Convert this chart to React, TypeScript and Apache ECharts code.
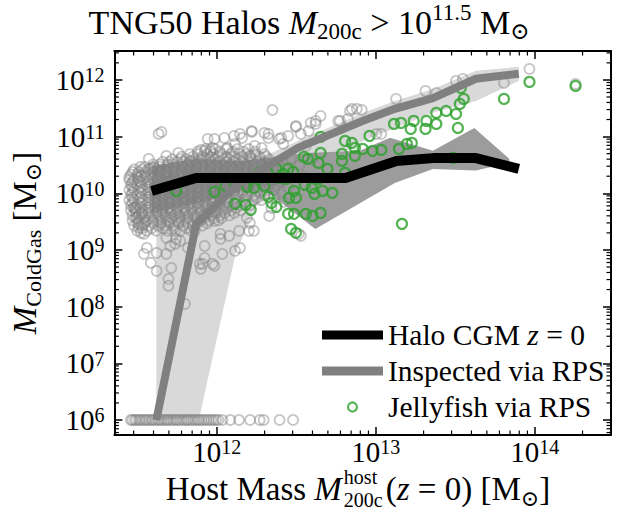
import React, { useEffect, useRef } from "react";
import * as echarts from "echarts";

const SERIF = "'Liberation Serif', 'DejaVu Serif', serif";

// axis limits (log10 of the values)
const X_LOG_RANGE = [11.356, 14.48];
const Y_LOG_RANGE = [5.735, 12.51];

// floor used for halos without cold gas (log10 M)
const ZERO_GAS_FLOOR = 6.0;

// ---------- data (log10 M200c, log10 MColdGas) ----------
const haloCgmMedian: number[][] = [
  [11.59, 10.04], [11.87, 10.27], [12.16, 10.27], [12.81, 10.27], [13.13, 10.57],
  [13.36, 10.62], [13.63, 10.62], [13.9, 10.43],
];

const inspectedMedian: number[][] = [
  [11.62, 6.0], [11.87, 9.45], [12.14, 10.18], [12.51, 10.8], [12.92, 11.28],
  [13.12, 11.49], [13.36, 11.68], [13.63, 12.02], [13.9, 12.11],
];

const inspectedBandUpper: number[][] = [
  [11.62, 10.04], [11.88, 10.43], [12.21, 10.54], [12.51, 10.92], [12.92, 11.42],
  [13.12, 11.63], [13.36, 11.84], [13.63, 12.16], [13.9, 12.23],
];
const inspectedBandLower: number[][] = [
  [11.62, 5.99], [11.89, 6.04], [12.12, 8.95], [12.25, 9.78], [12.56, 10.31],
  [12.92, 10.92], [13.36, 11.42], [13.63, 11.63], [13.9, 11.98],
];

const haloBandUpper: number[][] = [
  [11.59, 10.48], [11.87, 10.61], [12.16, 10.57], [12.56, 10.71], [12.9, 10.75],
  [13.09, 10.98], [13.36, 10.75], [13.62, 11.15], [13.84, 10.61],
];
const haloBandLower: number[][] = [
  [11.59, 9.65], [11.94, 9.87], [12.27, 10.13], [12.62, 9.37], [13.12, 10.18],
  [13.36, 10.43], [13.63, 10.4], [13.84, 10.54],
];

const jellyfish: number[][] = [
  [11.745, 10.042], [11.986, 10.025], [12.054, 10.131], [12.115, 9.813], [12.183, 9.795],
  [12.214, 9.707], [12.19, 10.113], [12.233, 10.095], [12.264, 10.36], [12.3, 10.131],
  [12.325, 9.937], [12.344, 9.831], [12.375, 9.76], [12.375, 10.43], [12.418, 10.342],
  [12.449, 10.43], [12.393, 10.272], [12.436, 10.254], [12.48, 10.377], [12.486, 10.042],
  [12.455, 9.919], [12.498, 9.919], [12.449, 9.637], [12.486, 9.637], [12.467, 9.372],
  [12.498, 9.302], [12.554, 10.148], [12.597, 10.095], [12.56, 9.637], [12.603, 9.601],
  [12.653, 9.654], [12.615, 9.989], [12.64, 10.254], [12.665, 10.042], [12.727, 10.007],
  [12.653, 10.995], [12.653, 10.713], [12.64, 10.536], [12.548, 10.642], [12.572, 10.607],
  [12.696, 10.43], [12.807, 10.36], [12.788, 10.695], [12.788, 10.571], [12.807, 10.924],
  [12.85, 10.889], [12.869, 10.801], [12.869, 10.66], [12.918, 10.783], [12.961, 11.012],
  [12.98, 10.748], [13.035, 10.765], [13.115, 11.224], [13.159, 11.242], [13.22, 11.136],
  [13.239, 11.277], [13.146, 10.783], [13.196, 10.871], [13.227, 10.889], [13.165, 9.46],
  [13.313, 11.136], [13.319, 11.277], [13.381, 11.418], [13.381, 11.224], [13.443, 11.453],
  [13.505, 11.4], [13.517, 11.153], [13.529, 11.577], [13.554, 11.665], [13.535, 11.859],
  [13.486, 10.624], [13.807, 11.665], [13.967, 11.965], [14.257, 11.894],
];

const grayScattered: number[][] = [
  [12.35, 11.47], [11.634, 11.048], [11.652, 11.083], [11.572, 10.607], [11.683, 10.66],
  [11.758, 10.713], [11.832, 10.571], [11.9, 10.765], [11.943, 10.959], [11.986, 10.959],
  [11.961, 10.765], [12.048, 10.977], [12.066, 10.801], [12.159, 10.977], [12.22, 11.083],
  [12.239, 10.836], [12.325, 11.048], [12.393, 10.959], [12.449, 11.012], [12.498, 11.171],
  [12.578, 11.1], [12.622, 11.224], [12.653, 11.365], [12.56, 10.836], [12.764, 11.277],
  [12.85, 11.489], [12.912, 11.471], [11.523, 10.307], [11.51, 10.219], [11.603, 10.448],
  [11.492, 9.742], [11.523, 9.302], [11.51, 9.46], [11.529, 9.637], [11.739, 9.337],
  [11.683, 9.213], [11.862, 9.337], [11.986, 9.513], [12.023, 9.284], [12.078, 9.249],
  [12.14, 9.337], [12.19, 9.566], [12.233, 9.337], [12.529, 9.249], [12.344, 9.742],
  [11.542, 8.931], [11.585, 8.773], [11.622, 8.631], [11.696, 8.49], [11.696, 8.367],
  [11.708, 9.072], [11.745, 9.196], [11.8, 8.049], [11.924, 9.072], [11.912, 8.755],
  [11.9, 8.667], [11.986, 8.72], [12.115, 8.984], [12.202, 9.337], [11.924, 10.748],
  [11.974, 10.801], [12.109, 11.012], [11.585, 10.43], [11.48, 9.742], [11.498, 9.566],
  [11.51, 9.39], [11.542, 9.284], [11.56, 9.037], [11.622, 8.949], [11.683, 8.931],
  [11.739, 9.108], [11.77, 9.16], [11.819, 9.037], [11.714, 8.684], [11.893, 8.755],
  [11.974, 8.755], [11.924, 8.86], [12.023, 9.196], [12.146, 9.037], [12.035, 8.931],
  [12.22, 11.1], [12.146, 11.048], [12.115, 10.871], [12.3, 11.065], [12.325, 10.977],
  [12.406, 10.977], [12.418, 10.871], [12.498, 11.189], [12.529, 11.048], [12.591, 11.242],
  [12.622, 11.277], [12.776, 11.277], [12.825, 11.312], [12.881, 11.489], [13.128, 11.665],
  [13.313, 11.806], [13.381, 11.771], [13.004, 11.048], [13.035, 11.048], [12.208, 10.66],
  [12.282, 10.801], [12.208, 9.478], [12.516, 9.284], [12.838, 11.453], [13.505, 11.982],
  [13.548, 12.018], [13.807, 11.947], [13.967, 12.194], [14.257, 11.929],
  [12.38, 10.55], [12.43, 10.45], [12.47, 10.62], [12.4, 10.2], [12.45, 10.1],
  [12.36, 9.95], [12.52, 10.5], [12.55, 10.3], [12.6, 10.6], [12.42, 9.85], [12.33, 9.6],
];

// dense cloud of halos, written row by row: [log10 MColdGas, [log10 M200c ...]]
const grayCloudRows: [number, number[]][] = [
  [10.78, [11.93, 11.99, 12.06, 12.13, 12.2]],
  [10.735, [11.88, 11.96, 12.02, 12.1, 12.17, 12.24]],
  [10.69, [11.83, 11.88, 11.94, 11.98, 12.03, 12.09, 12.14, 12.19, 12.24, 12.3]],
  [10.645, [11.78, 11.85, 11.91, 11.96, 12.01, 12.06, 12.11, 12.16, 12.21, 12.27, 12.31]],
  [10.6, [11.72, 11.77, 11.81, 11.86, 11.9, 11.95, 11.99, 12.04, 12.08, 12.12, 12.17, 12.22, 12.27, 12.33]],
  [10.555, [11.66, 11.7, 11.75, 11.79, 11.84, 11.88, 11.93, 11.97, 12.02, 12.06, 12.11, 12.15, 12.2, 12.25, 12.3]],
  [10.51, [11.6, 11.64, 11.69, 11.73, 11.78, 11.82, 11.87, 11.91, 11.96, 12.0, 12.05, 12.09, 12.14, 12.18, 12.23, 12.28, 12.33]],
  [10.465, [11.52, 11.55, 11.6, 11.64, 11.69, 11.73, 11.78, 11.82, 11.87, 11.91, 11.96, 12.0, 12.05, 12.09, 12.14, 12.18, 12.23, 12.28, 12.32]],
  [10.42, [11.48, 11.53, 11.57, 11.62, 11.66, 11.71, 11.75, 11.8, 11.84, 11.89, 11.93, 11.98, 12.02, 12.07, 12.11, 12.16, 12.2, 12.25, 12.3, 12.35]],
  [10.375, [11.47, 11.51, 11.55, 11.6, 11.64, 11.69, 11.73, 11.78, 11.82, 11.87, 11.91, 11.96, 12.0, 12.05, 12.09, 12.14, 12.18, 12.23, 12.28, 12.33]],
  [10.33, [11.46, 11.5, 11.55, 11.59, 11.64, 11.68, 11.73, 11.77, 11.82, 11.86, 11.91, 11.95, 12.0, 12.04, 12.09, 12.13, 12.18, 12.22, 12.27, 12.32, 12.37]],
  [10.285, [11.45, 11.5, 11.55, 11.6, 11.64, 11.69, 11.73, 11.78, 11.82, 11.87, 11.91, 11.96, 12.0, 12.05, 12.09, 12.14, 12.2, 12.25, 12.31, 12.37]],
  [10.24, [11.45, 11.48, 11.53, 11.57, 11.62, 11.66, 11.71, 11.75, 11.8, 11.84, 11.89, 11.93, 11.98, 12.02, 12.07, 12.11, 12.16, 12.2, 12.25, 12.3, 12.35, 12.4]],
  [10.195, [11.47, 11.52, 11.57, 11.61, 11.66, 11.7, 11.75, 11.79, 11.84, 11.88, 11.93, 11.97, 12.02, 12.06, 12.11, 12.15, 12.2, 12.26, 12.32]],
  [10.15, [11.46, 11.5, 11.55, 11.59, 11.64, 11.68, 11.73, 11.77, 11.82, 11.86, 11.91, 11.95, 12.0, 12.04, 12.09, 12.13, 12.18, 12.23, 12.28, 12.33, 12.38]],
  [10.105, [11.47, 11.52, 11.57, 11.61, 11.66, 11.7, 11.75, 11.79, 11.84, 11.88, 11.93, 11.97, 12.02, 12.06, 12.11, 12.15, 12.2, 12.25, 12.3]],
  [10.06, [11.45, 11.48, 11.53, 11.57, 11.62, 11.66, 11.71, 11.75, 11.8, 11.84, 11.89, 11.93, 11.98, 12.02, 12.07, 12.11, 12.16, 12.21, 12.26, 12.31, 12.36]],
  [10.015, [11.47, 11.52, 11.57, 11.61, 11.66, 11.7, 11.75, 11.79, 11.84, 11.88, 11.93, 11.97, 12.02, 12.06, 12.11, 12.16, 12.22, 12.27]],
  [9.97, [11.46, 11.5, 11.55, 11.59, 11.64, 11.68, 11.73, 11.77, 11.82, 11.86, 11.91, 11.95, 12.0, 12.04, 12.09, 12.14, 12.19, 12.24, 12.3]],
  [9.925, [11.47, 11.52, 11.57, 11.61, 11.66, 11.7, 11.75, 11.79, 11.84, 11.88, 11.93, 11.97, 12.02, 12.07, 12.12, 12.18, 12.25]],
  [9.88, [11.45, 11.48, 11.53, 11.57, 11.62, 11.66, 11.71, 11.75, 11.8, 11.84, 11.89, 11.93, 11.98, 12.02, 12.07, 12.12, 12.17, 12.23, 12.28]],
  [9.835, [11.47, 11.52, 11.57, 11.61, 11.66, 11.7, 11.75, 11.79, 11.84, 11.88, 11.93, 11.97, 12.02, 12.07, 12.13, 12.18]],
  [9.79, [11.46, 11.5, 11.55, 11.59, 11.64, 11.68, 11.73, 11.77, 11.82, 11.86, 11.91, 11.95, 12.0, 12.05, 12.1, 12.15, 12.21]],
  [9.745, [11.48, 11.52, 11.57, 11.61, 11.66, 11.7, 11.75, 11.79, 11.84, 11.88, 11.93, 11.97, 12.02, 12.07, 12.12]],
  [9.7, [11.46, 11.49, 11.53, 11.57, 11.62, 11.66, 11.71, 11.75, 11.8, 11.84, 11.89, 11.94, 11.99, 12.04, 12.09, 12.15]],
  [9.655, [11.49, 11.53, 11.57, 11.62, 11.66, 11.71, 11.75, 11.8, 11.85, 11.9, 11.95, 12.0, 12.05, 12.11]],
  [9.61, [11.47, 11.51, 11.55, 11.59, 11.64, 11.68, 11.73, 11.77, 11.82, 11.87, 11.92, 11.97, 12.02, 12.08]],
  [9.565, [11.49, 11.54, 11.58, 11.63, 11.68, 11.72, 11.77, 11.82, 11.87, 11.92, 11.98, 12.03]],
  [9.52, [11.47, 11.51, 11.56, 11.6, 11.65, 11.7, 11.75, 11.8, 11.85, 11.9, 11.95, 12.01]],
  [9.475, [11.5, 11.55, 11.6, 11.65, 11.7, 11.76, 11.82, 11.88, 11.94]],
  [9.43, [11.48, 11.53, 11.58, 11.63, 11.68, 11.73, 11.79, 11.85, 11.91]],
  [9.385, [11.53, 11.59, 11.66, 11.73, 11.81]],
  [9.34, [11.5, 11.56, 11.62, 11.69, 11.77, 11.84]],
];

// halos with no cold gas, drawn at the floor value
const grayZeroGasLogM: number[] = [
  11.46, 11.47, 11.485, 11.495, 11.51, 11.52, 11.535, 11.55, 11.56, 11.575, 11.59, 11.6,
  11.615, 11.63, 11.64, 11.655, 11.67, 11.685, 11.695, 11.71, 11.725, 11.74, 11.75, 11.765,
  11.78, 11.795, 11.81, 11.82, 11.835, 11.85, 11.865, 11.88, 11.89, 11.905, 11.92, 11.935,
  11.95, 11.965, 11.98, 11.995, 12.01, 12.035, 12.085, 12.14, 12.21, 12.27, 12.295, 12.395,
  12.48,
];

const xMinorDecades = [11, 12, 13, 14];
const yMinorDecades = [5, 6, 7, 8, 9, 10, 11, 12];
const minorMultipliers = [2, 3, 4, 5, 6, 7, 8, 9];

const LEGEND_NAMES = ["Halo CGM z = 0", "Inspected via RPS", "Jellyfish via RPS"];

const p10 = (v: number) => Math.pow(10, v);
const toXY = (pts: number[][]) => pts.map(([lx, ly]) => [p10(lx), p10(ly)]);

export default function App() {
  const ref = useRef<HTMLDivElement>(null);

  useEffect(() => {
    document.body.style.margin = "0";
    const el = ref.current!;
    const chart = echarts.init(el, null, { renderer: "svg" });

    const xMin = p10(X_LOG_RANGE[0]);
    const xMax = p10(X_LOG_RANGE[1]);
    const yMin = p10(Y_LOG_RANGE[0]);
    const yMax = p10(Y_LOG_RANGE[1]);

    const xMinor: number[] = [];
    xMinorDecades.forEach((d) => minorMultipliers.forEach((m) => {
      const v = m * p10(d);
      if (v > xMin && v < xMax) xMinor.push(v);
    }));
    const yMinor: number[] = [];
    yMinorDecades.forEach((d) => minorMultipliers.forEach((m) => {
      const v = m * p10(d);
      if (v > yMin && v < yMax) yMinor.push(v);
    }));

    const grayPoints: number[][] = [];
    grayCloudRows.forEach(([ly, xs]) => xs.forEach((lx) => grayPoints.push([p10(lx), p10(ly)])));
    toXY(grayScattered).forEach((p) => grayPoints.push(p));
    grayZeroGasLogM.forEach((lx) => grayPoints.push([p10(lx), p10(ZERO_GAS_FLOOR)]));

    const rs = (size: number, extra: any = {}) => ({
      fontFamily: SERIF, fontSize: size, fontWeight: "normal", color: "#000", ...extra,
    });

    const FL = 33; // label font
    const FS = 22; // sub/sup font
    const FX = 20; // stacked scripts of the x label
    const labelRich = {
      r: rs(FL, { lineHeight: 40 }),
      i: rs(FL, { lineHeight: 40, fontStyle: "italic" }),
      sub: rs(FS, { lineHeight: 20, verticalAlign: "bottom" }),
      sup: rs(FS, { lineHeight: 20, verticalAlign: "top" }),
    };
    const FT = 34;
    const titleRich = {
      r: rs(FT, { lineHeight: 42 }),
      i: rs(FT, { lineHeight: 42, fontStyle: "italic" }),
      sub: rs(23, { lineHeight: 21, verticalAlign: "bottom" }),
      sup: rs(23, { lineHeight: 21, verticalAlign: "top" }),
    };

    const tickRich = {
      b: rs(29, { lineHeight: 29 }),
      s: rs(20, { lineHeight: 18, verticalAlign: "top" }),
    };
    const tickFmt = (v: number) => {
      const l = Math.log10(v);
      const e = Math.round(l);
      if (Math.abs(l - e) > 0.01) return "";
      return `{b|10}{s|${e}}`;
    };

    // measure x label pieces for the stacked super/subscript
    const ctx = document.createElement("canvas").getContext("2d")!;
    const tw = (t: string, size: number, italic = false) => {
      ctx.font = `${italic ? "italic " : ""}${size}px ${SERIF}`;
      return ctx.measureText(t).width;
    };
    const w1 = tw("Host Mass ", FL) + tw("M", FL, true);
    const w3 = Math.max(tw("host", FX), tw("200c", FX));
    const w4 = tw("(", FL) + tw("z", FL, true) + tw(" = 0) [M", FL) + tw("⊙", FS) + tw("]", FL);
    const total = w1 + 2 + w3 + 3 + w4;
    const xCenter = 358;
    const x0 = xCenter - total / 2;
    const xLabelY = 489;
    const scriptStyle = { font: `${FX}px ${SERIF}`, fill: "#000", align: "left", verticalAlign: "middle" };

    const bandSeries = (upper: number[][], lower: number[][], color: string) => ({
      type: "custom",
      silent: true,
      clip: true,
      data: [[1e12, 1e10]],
      encode: { x: 0, y: 1 },
      renderItem: (params: any, api: any) => {
        const pts = [...upper, ...lower.slice().reverse()].map(([lx, ly]) => api.coord([p10(lx), p10(ly)]));
        return { type: "polygon", shape: { points: pts }, style: { fill: color } };
      },
    });

    const xMinorSeries = {
      type: "custom",
      silent: true,
      clip: false,
      z: 20,
      data: xMinor.map((v) => [v, 1e9]),
      encode: { x: 0, y: 1 },
      renderItem: (params: any, api: any) => {
        const cs = params.coordSys;
        const p = api.coord([api.value(0), api.value(1)]);
        const st = { stroke: "#000", lineWidth: 1.2 };
        return {
          type: "group",
          children: [
            { type: "line", shape: { x1: p[0], y1: cs.y + cs.height, x2: p[0], y2: cs.y + cs.height - 4.5 }, style: st },
            { type: "line", shape: { x1: p[0], y1: cs.y, x2: p[0], y2: cs.y + 4.5 }, style: st },
          ],
        };
      },
    };
    const yMinorSeries = {
      type: "custom",
      silent: true,
      clip: false,
      z: 20,
      data: yMinor.map((v) => [1e12, v]),
      encode: { x: 0, y: 1 },
      renderItem: (params: any, api: any) => {
        const cs = params.coordSys;
        const p = api.coord([api.value(0), api.value(1)]);
        const st = { stroke: "#000", lineWidth: 1.2 };
        return {
          type: "group",
          children: [
            { type: "line", shape: { x1: cs.x, y1: p[1], x2: cs.x + 4.5, y2: p[1] }, style: st },
            { type: "line", shape: { x1: cs.x + cs.width, y1: p[1], x2: cs.x + cs.width - 4.5, y2: p[1] }, style: st },
          ],
        };
      },
    };

    const axisCommon = {
      type: "log",
      logBase: 10,
      axisLine: { show: true, lineStyle: { color: "#000", width: 2 } },
      axisTick: { show: true, inside: true, length: 8, lineStyle: { color: "#000", width: 1.5 } },
      splitLine: { show: false },
      minorTick: { show: false },
    };

    const option: any = {
      animation: false,
      backgroundColor: "#fff",
      title: {
        text: "{r|TNG50 Halos }{i|M}{sub|200c}{r| > 10}{sup|11.5}{r| M}{sub|⊙}",
        left: "center",
        top: 1,
        padding: 0,
        textStyle: { fontWeight: "normal", rich: titleRich },
      },
      grid: { left: 105, right: 7, top: 51, bottom: 78, containLabel: false },
      xAxis: [
        {
          ...axisCommon,
          position: "bottom",
          min: xMin,
          max: xMax,
          axisLabel: { show: true, margin: 2, formatter: tickFmt, rich: tickRich, showMinLabel: false, showMaxLabel: false },
        },
        {
          ...axisCommon,
          position: "top",
          min: xMin,
          max: xMax,
          axisLabel: { show: false },
        },
      ],
      yAxis: [
        {
          ...axisCommon,
          position: "left",
          min: yMin,
          max: yMax,
          axisLabel: { show: true, margin: 10, formatter: tickFmt, rich: tickRich, showMinLabel: false, showMaxLabel: false },
          name: "{i|M}{sub|ColdGas}{r| [M}{sub|⊙}{r|]}",
          nameLocation: "middle",
          nameRotate: 90,
          nameGap: 61,
          nameTextStyle: { rich: labelRich },
        },
        {
          ...axisCommon,
          position: "right",
          min: yMin,
          max: yMax,
          axisLabel: { show: false },
        },
      ],
      legend: {
        data: [
          { name: LEGEND_NAMES[0], icon: "rect", itemStyle: { color: "#000", borderWidth: 0 } },
          { name: LEGEND_NAMES[1], icon: "rect", itemStyle: { color: "#808080", borderWidth: 0 } },
          { name: LEGEND_NAMES[2], icon: "circle", itemStyle: { color: "rgba(0,0,0,0)", borderColor: "#2ca02c", borderWidth: 2.2 } },
        ],
        orient: "vertical",
        left: 322,
        top: 320,
        padding: 0,
        itemWidth: 61,
        itemHeight: 9,
        itemGap: 6,
        selectedMode: false,
        formatter: (name: string) => (name === LEGEND_NAMES[0] ? "{r|Halo CGM }{i|z}{r| = 0}" : `{r|${name}}`),
        textStyle: {
          rich: {
            r: rs(29.5, { lineHeight: 31 }),
            i: rs(29.5, { lineHeight: 31, fontStyle: "italic" }),
          },
        },
      },
      graphic: [
        {
          type: "text",
          x: x0,
          y: xLabelY,
          style: { text: "{r|Host Mass }{i|M}", rich: labelRich, align: "left", verticalAlign: "middle" },
        },
        {
          type: "text",
          x: x0 + w1 + 2,
          y: xLabelY - 12,
          style: { text: "host", ...scriptStyle },
        },
        {
          type: "text",
          x: x0 + w1 + 2,
          y: xLabelY + 11,
          style: { text: "200c", ...scriptStyle },
        },
        {
          type: "text",
          x: x0 + w1 + 2 + w3 + 3,
          y: xLabelY,
          style: { text: "{r|(}{i|z}{r| = 0) [M}{sub|⊙}{r|]}", rich: labelRich, align: "left", verticalAlign: "middle" },
        },
      ],
      series: [
        bandSeries(inspectedBandUpper, inspectedBandLower, "#d9d9d9"),
        bandSeries(haloBandUpper, haloBandLower, "#9c9c9c"),
        {
          type: "scatter",
          name: "All halos",
          data: grayPoints,
          symbol: "circle",
          symbolSize: 10,
          silent: true,
          itemStyle: { color: "rgba(0,0,0,0)", borderColor: "rgba(128,128,128,0.55)", borderWidth: 1.8 },
        },
        {
          type: "line",
          name: LEGEND_NAMES[1],
          data: toXY(inspectedMedian),
          showSymbol: false,
          symbol: "none",
          silent: true,
          itemStyle: { color: "#808080" },
          lineStyle: { color: "#808080", width: 8, cap: "butt", join: "round" },
        },
        {
          type: "line",
          name: LEGEND_NAMES[0],
          data: toXY(haloCgmMedian),
          showSymbol: false,
          symbol: "none",
          silent: true,
          itemStyle: { color: "#000" },
          lineStyle: { color: "#000", width: 10, cap: "butt", join: "round" },
        },
        {
          type: "scatter",
          name: LEGEND_NAMES[2],
          data: toXY(jellyfish),
          symbol: "circle",
          symbolSize: 10,
          silent: true,
          itemStyle: { color: "rgba(0,0,0,0)", borderColor: "#2ca02c", borderWidth: 2.2 },
        },
        xMinorSeries,
        yMinorSeries,
      ],
    };

    chart.setOption(option);
    return () => chart.dispose();
  }, []);

  return <div ref={ref} style={{ width: 618, height: 513 }} />;
}
